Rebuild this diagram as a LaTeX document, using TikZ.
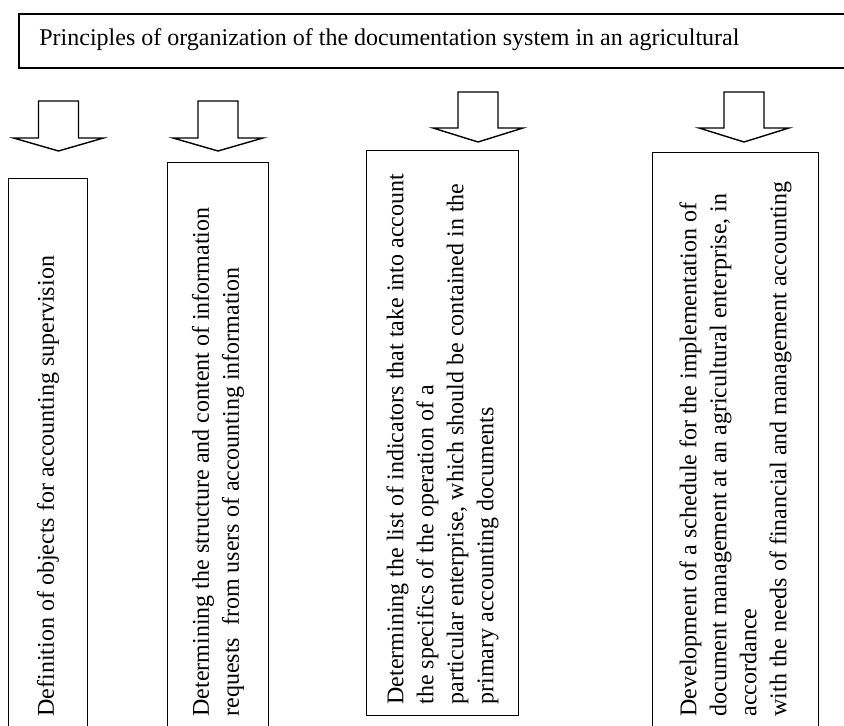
\documentclass[tikz,border=0pt]{standalone}
\usepackage{fontspec}
\setmainfont{Liberation Serif}
\usetikzlibrary{positioning}

\begin{document}
\begin{tikzpicture}[x=0.5pt,y=-0.5pt,
      box node/.style={draw,line width=0.6pt,anchor=south west,inner sep=0pt},
      rot text/.style={rotate=90,anchor=west,align=left,inner sep=0pt,
        font=\fontsize{12pt}{15pt}\selectfont},
      block arrow/.style={draw,line width=0.7pt,line join=miter}]

      \useasboundingbox (0,0) rectangle (844,726);

      % heading
      \node[box node, line width=0.9pt, anchor=north west,
        minimum width=416pt, minimum height=27pt] (title) at (18,13) {};
      \node[anchor=base west, inner sep=0pt, font=\fontsize{12pt}{15pt}\selectfont]
        (title text) at (39,46)
        {Principles of organization of the documentation system in an agricultural};

      % boxes
      \node[box node, minimum width=39.5pt, minimum height=280.5pt] (b1) at (8,740) {};
      \node[box node, minimum width=50.5pt, minimum height=288.5pt] (b2) at (167,740) {};
      \node[box node, minimum width=76pt, minimum height=282.5pt] (b3) at (366,716) {};
      \node[box node, minimum width=83pt, minimum height=293.5pt] (b4) at (652,740) {};

      \node[rot text] (t1) at (b1.center |- 0,717)
        {Definition of objects for accounting supervision};
      \node[rot text] (t2) at (b2.center |- 0,717)
        {Determining the structure and content of information\\
         requests~ from users of accounting information};
      \node[rot text] (t3) at (b3.center |- 0,705)
        {Determining the list of indicators that take into account\\
         the specifics of the operation of a\\
         particular enterprise, which should be contained in the\\
         primary accounting documents};
      \node[rot text] (t4) at (b4.center |- 0,717)
        {Development of a schedule for the implementation of\\
         document management at an agricultural enterprise, in\\
         accordance\\
         with the needs of financial and management accounting};

      % arrows
      \foreach \x/\t/\h/\b in {58.5/101/138/151, 218/101/138/151,
                               478/92/128/142, 744/92/128/142} {
          \draw[block arrow] ({\x-20},\t) -- ({\x+20},\t) -- ({\x+20},\h)
            -- ({\x+45},\h) -- (\x,\b) -- ({\x-45},\h) -- ({\x-20},\h) -- cycle;}
\end{tikzpicture}
\end{document}
